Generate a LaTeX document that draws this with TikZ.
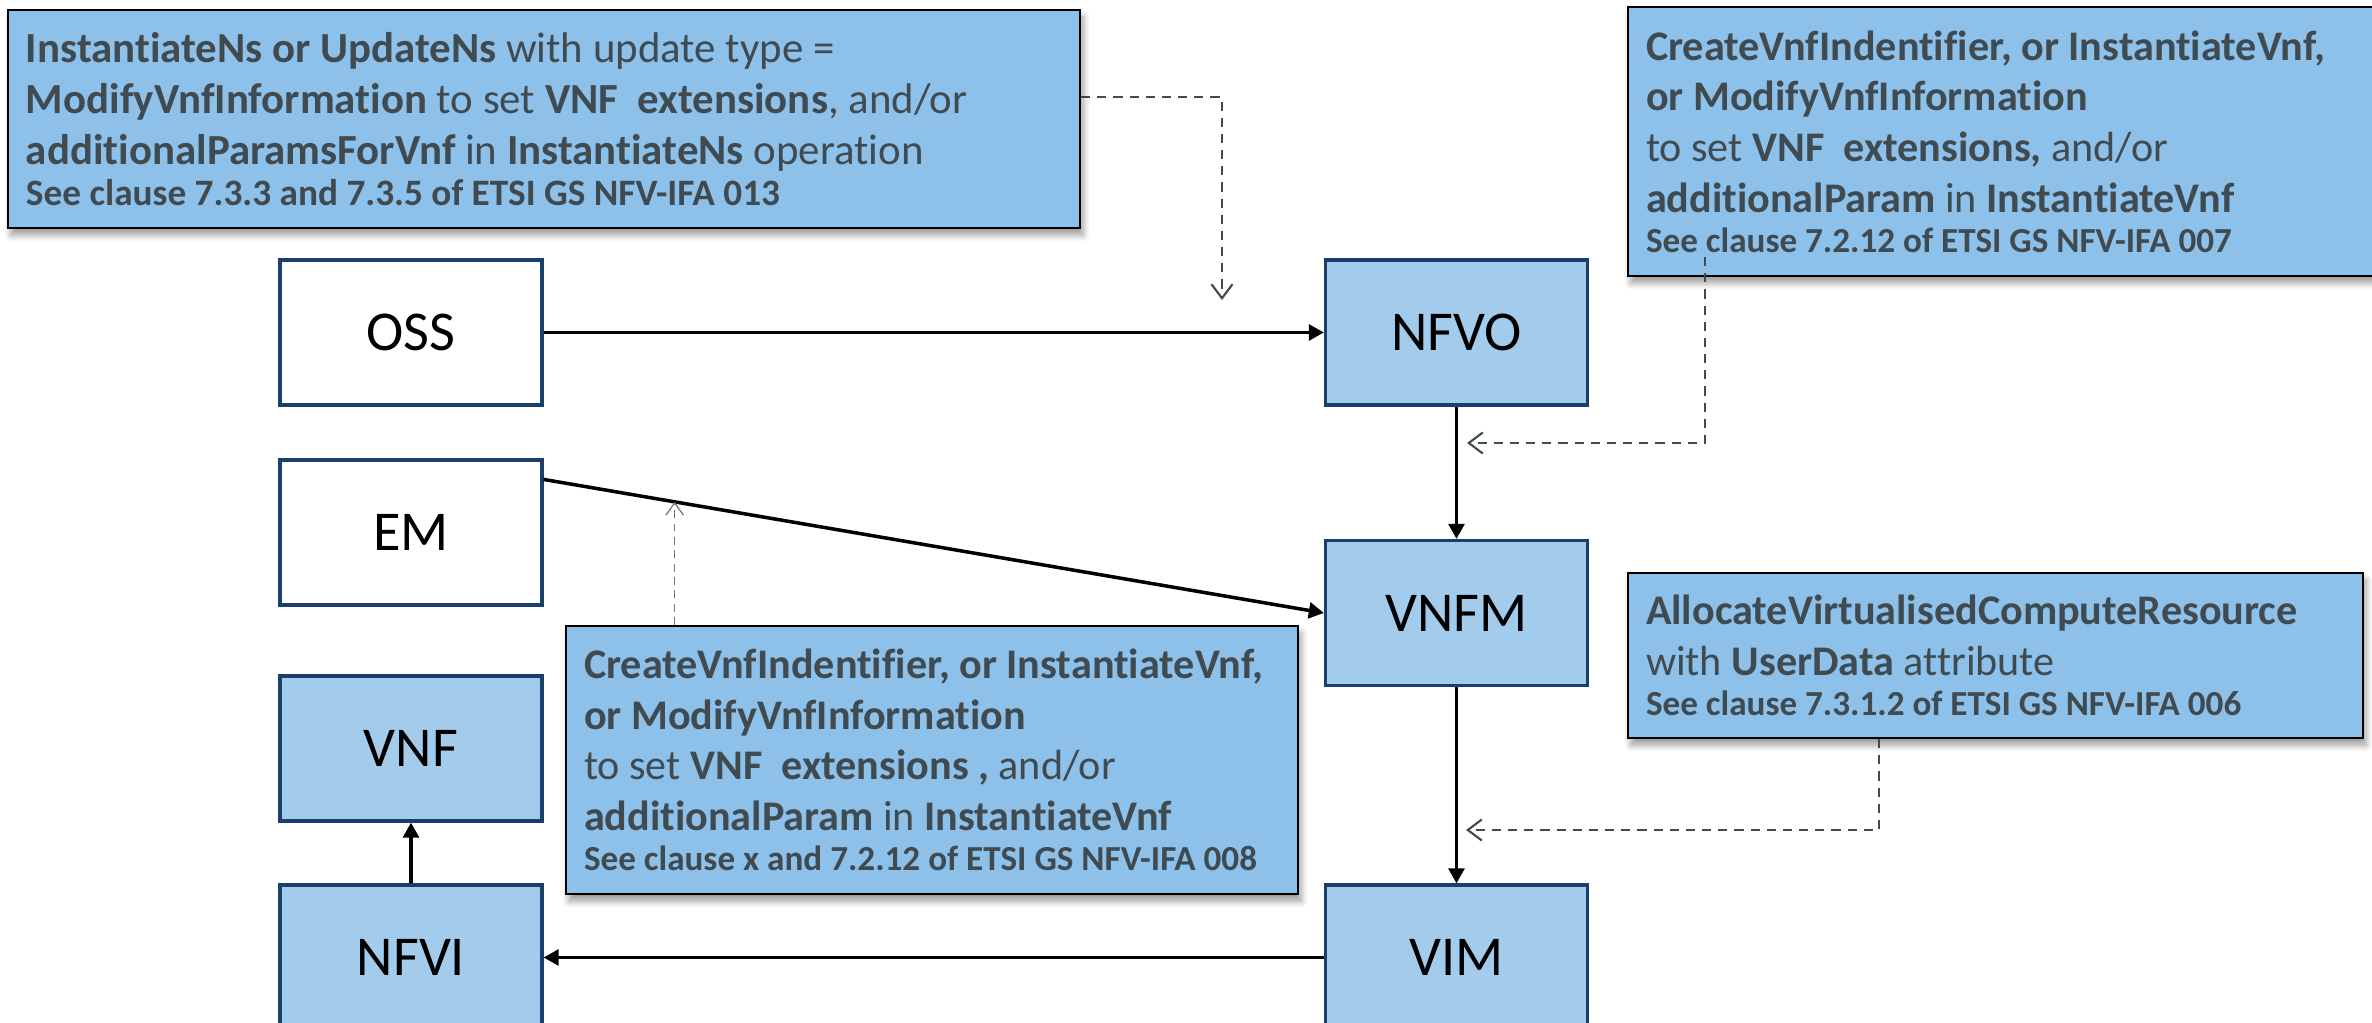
\documentclass[tikz,border=0pt]{standalone}
\usepackage{fontspec}
\setmainfont{Carlito}[Ligatures=NoCommon]
\usepackage{tikz}
\usepackage{xcolor}
\usetikzlibrary{arrows.meta,shadows.blur,calc}
\definecolor{boxblue}{HTML}{A2CBEC}
\definecolor{noteblue}{HTML}{8EC1EA}
\definecolor{boxline}{HTML}{1B3F6B}
\definecolor{notetext}{HTML}{3F4A51}
\newcommand{\clause}[2][10]{{\fontsize{#1}{12}\selectfont\bfseries #2}}

\begin{document}
\begin{tikzpicture}[
            >={Triangle[length=4.3pt,width=4.5pt]},
            block/.style={draw=boxline,line width=0.9pt,minimum width=2.62cm,minimum height=1.45cm,font=\fontsize{16}{19}\selectfont},
            note/.style={draw=black,line width=0.6pt,fill=noteblue,text=notetext,align=flush left,inner xsep=0.18cm,font=\fontsize{12}{14.4}\selectfont,blur shadow={shadow xshift=0.03cm,shadow yshift=-0.07cm,shadow blur steps=6}},
            ref/.style={draw=notetext,line width=0.6pt,dash pattern=on 2.6pt off 2pt,-{Straight Barb[length=4pt,width=6pt]}},
            flow/.style={->,line width=1pt}
        ]
            \useasboundingbox (0,0) rectangle (23.72,-10.23);
            \node[block,fill=white] (OSS) at (4.11,-3.325) {OSS};
            \node[block,fill=boxblue] (NFVO) at (14.565,-3.325) {NFVO};
            \node[block,fill=white] (EM) at (4.11,-5.325) {EM};
            \node[block,fill=boxblue] (VNFM) at (14.565,-6.13) {VNFM};
            \node[block,fill=boxblue] (VNF) at (4.11,-7.485) {VNF};
            \node[block,fill=boxblue] (NFVI) at (4.11,-9.575) {NFVI};
            \node[block,fill=boxblue] (VIM) at (14.565,-9.575) {VIM};
            \draw[flow] (OSS) -- (NFVO);
            \draw[flow] (NFVO) -- (VNFM);
            \draw[flow] (VNFM) -- (VIM);
            \draw[flow] (VIM) -- (NFVI);
            \draw[flow] (NFVI) -- (VNF);
            \coordinate (emout) at ([yshift=-0.21cm]EM.north east);
            \draw[flow] (emout) -- (VNFM.west);
            \node[note,text width=10.36cm,minimum height=2.18cm,font=\fontsize{12.2}{14.6}\selectfont] (reqNs) at (5.44,-1.19) {\textbf{InstantiateNs or UpdateNs} with update type =\\ \textbf{ModifyVnfInformation} to set \textbf{VNF\ \ extensions}, and/or\\ \textbf{additionalParamsForVnf} in \textbf{InstantiateNs} operation\\[-3pt] \clause[10.6]{See clause 7.3.3 and 7.3.5 of ETSI GS NFV-IFA 013}};
            \node[note,text width=7.34cm,minimum height=2.69cm] (reqOrVnfm) at (20.13,-1.415) {\textbf{CreateVnfIndentifier, or InstantiateVnf,}\\ \textbf{or ModifyVnfInformation}\\ to set \textbf{VNF\ \ extensions,} and/or\\ \textbf{additionalParam} in \textbf{InstantiateVnf}\\[-3pt] \clause{See clause 7.2.12 of ETSI GS NFV-IFA 007}};
            \node[note,text width=6.96cm,minimum height=2.68cm] (reqVeVnfm) at (9.32,-7.60) {\textbf{CreateVnfIndentifier, or InstantiateVnf,}\\ \textbf{or ModifyVnfInformation}\\ to set \textbf{VNF\ \ extensions ,} and/or\\ \textbf{additionalParam} in \textbf{InstantiateVnf}\\[-3pt] \clause{See clause x and 7.2.12 of ETSI GS NFV-IFA 008}};
            \node[note,text width=6.99cm,minimum height=1.65cm] (reqVim) at (19.955,-6.555) {\textbf{AllocateVirtualisedComputeResource}\\ with \textbf{UserData} attribute\\[-3pt] \clause{See clause 7.3.1.2 of ETSI GS NFV-IFA 006}};
            \coordinate (ossnfvo) at (12.22,-3.00);
            \coordinate (nfvovnfm) at (14.67,-4.43);
            \coordinate (vnfmvim) at (14.66,-8.30);
            \coordinate (emvnfm) at ($(emout)!0.168!(VNFM.west)$);
            \draw[ref] ([xshift=0.78cm,yshift=0.2cm]reqOrVnfm.south west) |- (nfvovnfm);
            \draw[ref] ([yshift=0.22cm]reqNs.east) -| (ossnfvo);
            \draw[ref] ([xshift=2.52cm]reqVim.south west) |- (vnfmvim);
            \draw[ref,line width=0.35pt,draw=notetext!75,dash pattern=on 2.2pt off 1.6pt,-{Straight Barb[length=3.5pt,width=5pt]}] (reqVeVnfm.north -| emvnfm) -- (emvnfm);
        \end{tikzpicture}
\end{document}
